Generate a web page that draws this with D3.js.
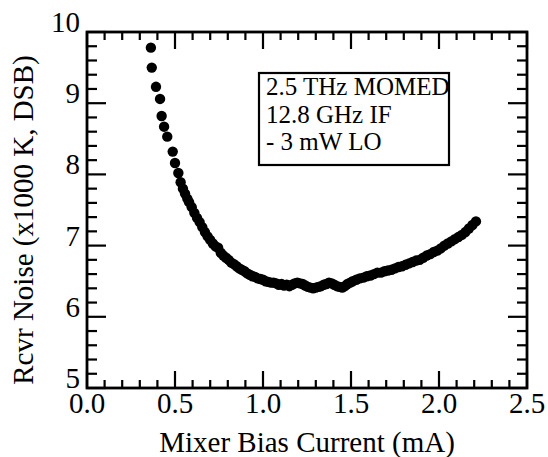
<!DOCTYPE html>
<html><head><meta charset="utf-8">
<script src="https://cdn.jsdelivr.net/npm/d3@7"></script>
<style>body{margin:0;background:#fff}svg{display:block}text{font-family:"Liberation Serif","Times New Roman",serif;fill:#000}</style>
</head><body>
<svg id="c" width="548" height="457"></svg>
<script>
const biasCurrent = [0.363,0.368,0.392,0.415,0.424,0.438,0.456,0.487,0.500,0.519,0.532,0.545,0.557,0.570,0.580,0.595,0.610,0.625,0.640,0.655,0.670,0.685,0.700,0.715,0.730,0.745,0.760,0.775,0.790,0.805,0.820,0.835,0.850,0.865,0.880,0.895,0.910,0.925,0.940,0.955,0.970,0.985,1.000,1.015,1.030,1.045,1.060,1.075,1.090,1.105,1.120,1.135,1.150,1.165,1.180,1.195,1.210,1.225,1.240,1.255,1.270,1.285,1.300,1.315,1.330,1.345,1.360,1.375,1.390,1.405,1.420,1.435,1.450,1.465,1.480,1.495,1.510,1.530,1.550,1.570,1.590,1.610,1.630,1.650,1.670,1.690,1.710,1.730,1.750,1.770,1.790,1.810,1.830,1.850,1.870,1.890,1.910,1.930,1.950,1.970,1.990,2.010,2.030,2.050,2.070,2.090,2.110,2.130,2.150,2.170,2.190,2.210];
const rcvrNoise = [9.78,9.50,9.23,9.06,8.82,8.67,8.53,8.32,8.16,8.02,7.89,7.80,7.73,7.66,7.61,7.54,7.46,7.39,7.33,7.26,7.19,7.13,7.08,7.03,6.99,6.97,6.90,6.86,6.83,6.80,6.76,6.74,6.71,6.68,6.66,6.64,6.61,6.59,6.57,6.56,6.54,6.53,6.52,6.50,6.49,6.48,6.48,6.47,6.45,6.46,6.44,6.45,6.43,6.45,6.47,6.48,6.47,6.46,6.44,6.42,6.41,6.40,6.41,6.42,6.43,6.45,6.46,6.48,6.47,6.45,6.43,6.42,6.41,6.43,6.46,6.48,6.50,6.52,6.54,6.55,6.57,6.58,6.60,6.62,6.62,6.64,6.65,6.66,6.68,6.70,6.71,6.73,6.75,6.77,6.79,6.80,6.83,6.86,6.88,6.91,6.93,6.96,7.00,7.03,7.06,7.09,7.12,7.15,7.19,7.24,7.29,7.34];
const xTickLabels = ["0.0","0.5","1.0","1.5","2.0","2.5"];
const yTickLabels = ["5","6","7","8","9","10"];
const legendLines = ["2.5 THz MOMED","12.8 GHz IF","- 3 mW LO"];
const xTitle = "Mixer Bias Current (mA)";
const yTitle = "Rcvr Noise (x1000 K, DSB)";

const svg = d3.select("#c");
const L=87, R=527, T=32, B=388;
const x = d3.scaleLinear().domain([0,2.5]).range([L,R]);
const y = d3.scaleLinear().domain([5,10]).range([B,T]);

const g = svg.append("g");
const xMinor = d3.range(0,26).map(i=>i/10);
const yMinor = d3.range(0,26).map(i=>5+i/5);
xMinor.forEach((v,i)=>{
  const major = i%5===0; const len = major?17:8;
  g.append("line").attr("x1",x(v)).attr("x2",x(v)).attr("y1",B).attr("y2",B-len).attr("stroke","#000").attr("stroke-width",2.2);
  g.append("line").attr("x1",x(v)).attr("x2",x(v)).attr("y1",T).attr("y2",T+len).attr("stroke","#000").attr("stroke-width",2.2);
});
yMinor.forEach((v,i)=>{
  const major = i%5===0; const len = major?19:10;
  g.append("line").attr("y1",y(v)).attr("y2",y(v)).attr("x1",L).attr("x2",L+len).attr("stroke","#000").attr("stroke-width",2.2);
  g.append("line").attr("y1",y(v)).attr("y2",y(v)).attr("x1",R).attr("x2",R-len).attr("stroke","#000").attr("stroke-width",2.2);
});
g.append("rect").attr("x",L).attr("y",T).attr("width",R-L).attr("height",B-T).attr("fill","none").attr("stroke","#000").attr("stroke-width",2.8);

xTickLabels.forEach(t=>{
  g.append("text").attr("x",x(+t)).attr("y",413).attr("text-anchor","middle").attr("font-size",29).text(t);
});
yTickLabels.forEach(t=>{
  g.append("text").attr("x",80).attr("y",y(+t)).attr("text-anchor","end").attr("font-size",29).text(t);
});
svg.append("text").attr("x",(L+R)/2).attr("y",452).attr("text-anchor","middle").attr("font-size",29).text(xTitle);
svg.append("text").attr("transform",`translate(33,${(T+B)/2+10}) rotate(-90)`).attr("text-anchor","middle").attr("font-size",29).text(yTitle);

const lg = svg.append("g");
lg.append("rect").attr("x",259).attr("y",73).attr("width",190).attr("height",92).attr("fill","none").attr("stroke","#000").attr("stroke-width",2.2);
legendLines.forEach((s,i)=>{
  lg.append("text").attr("x",266).attr("y",95+i*27.5).attr("font-size",25).text(s);
});

svg.append("g").selectAll("circle").data(biasCurrent.map((v,i)=>[v,rcvrNoise[i]])).join("circle")
  .attr("cx",d=>x(d[0])).attr("cy",d=>y(d[1])).attr("r",5.2).attr("fill","#000");
</script>
</body></html>
